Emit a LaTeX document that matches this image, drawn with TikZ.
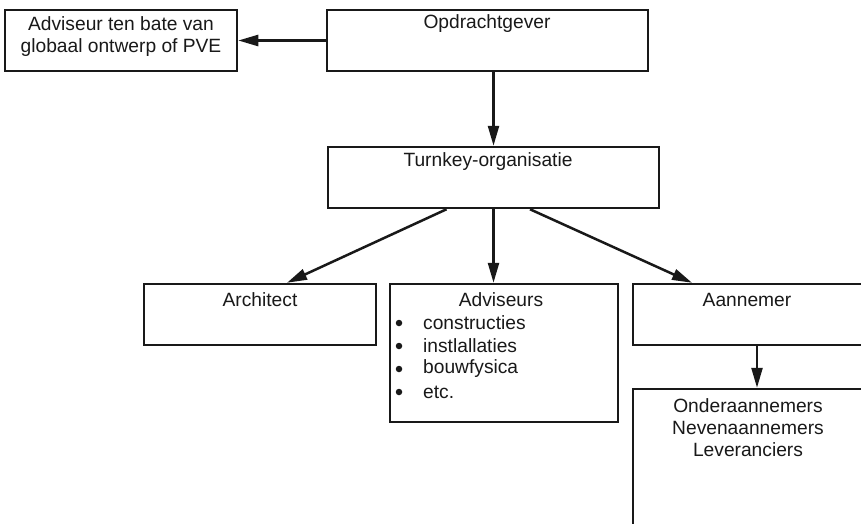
\documentclass[tikz,border=0pt]{standalone}
\usepackage{fontspec}
\setmainfont{Liberation Sans}
\usetikzlibrary{arrows.meta,calc}
\tikzset{
  box/.style={draw=black!90, line width=2.5pt, rectangle, inner sep=0pt},
  txt/.style={inner sep=0pt, font=\fontsize{19.2}{22}\selectfont, text=black!90},
  conn/.style={draw=black!90, line width=2.5pt},
  arr/.style={conn, -{Triangle[length=20pt,width=11pt]}},
  dot/.style={fill=black!90, circle, inner sep=0pt, minimum size=6.5pt},
}
\begin{document}
\begin{tikzpicture}[x=1pt,y=-1pt]
\useasboundingbox (0,0) rectangle (861,523);
\clip (0,0) rectangle (861,523);
\fill[white] (0,0) rectangle (861,523);

% boxes
\node[box, minimum width=232pt, minimum height=61pt] (advbox) at (121,40.5) {};
\node[box, minimum width=321pt, minimum height=61pt] (opd) at (487.5,40.5) {};
\node[box, minimum width=331pt, minimum height=61pt] (turn) at (493.5,177.5) {};
\node[box, minimum width=232pt, minimum height=61pt] (arch) at (260,314.5) {};
\node[box, minimum width=228pt, minimum height=138pt] (advs) at (504,353) {};
\node[box, minimum width=242pt, minimum height=61pt] (aan) at (754,314.5) {};
\node[box, minimum width=242pt, minimum height=171pt] (ond) at (754,474.5) {};

% labels
\node[txt, align=center] (advtxt) at (121,37) {Adviseur ten bate van\\globaal ontwerp of PVE};
\node[txt] (opdtxt) at (487,24) {Opdrachtgever};
\node[txt] (turntxt) at (488,162) {Turnkey-organisatie};
\node[txt] (archtxt) at (260,300) {Architect};
\node[txt] (advstxt) at (501,300) {Adviseurs};
\foreach \yy/\t in {323/constructies, 346/instlallaties, 369/bouwfysica, 392/etc.}{
  \node[dot] (bul\yy) at (399,\yy) {};
  \node[txt, anchor=west] (item\yy) at (423,\yy) {\t};
}
\node[txt] (aantxt) at (747,300) {Aannemer};
\node[txt, align=center] (ondtxt) at (748,428) {Onderaannemers\\Nevenaannemers\\Leveranciers};

% connectors
\draw[arr] (opd.west |- advbox.east) -- (advbox.east);
\draw[arr] (turn.north |- opd.south) -- (turn.north);
\draw[arr] ($(turn.south)+(-47,0)$) -- ($(arch.north)+(27,0)$);
\draw[arr] (turn.south) -- (turn.south |- advs.north);
\draw[arr] ($(turn.south)+(36.5,0)$) -- ($(aan.north)+(-62,0)$);
\draw[arr] ($(aan.south)+(3,0)$) -- ($(ond.north)+(3,0)$);
\end{tikzpicture}
\end{document}
